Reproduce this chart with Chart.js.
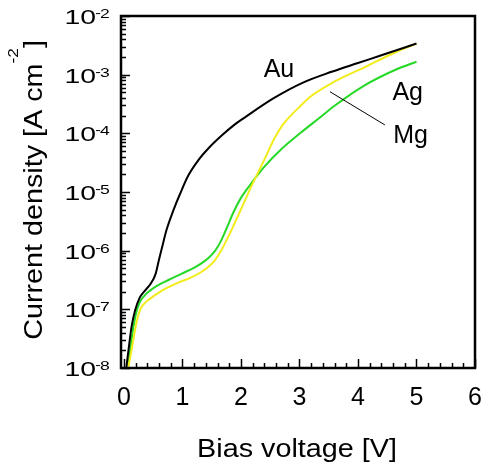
<!DOCTYPE html>
<html>
<head>
<meta charset="utf-8">
<script src="https://cdn.jsdelivr.net/npm/chart.js@4.4.1/dist/chart.umd.min.js"></script>
<style>
  html, body { margin: 0; padding: 0; background: #fff; }
  #wrap { width: 481px; height: 470px; }
</style>
</head>
<body>
<div id="wrap"><canvas id="jv"></canvas></div>
<script>
// Au electrode (black)
const auV = [0.04, 0.10, 0.13, 0.19, 0.27, 0.36, 0.46, 0.54, 0.60, 0.65, 0.73, 0.85, 0.96, 1.10, 1.27, 1.45, 1.68, 1.88, 2.05, 2.56, 3.07, 3.55, 4.00, 4.40, 5.00];
const auJ = [1.0e-8, 3.02e-8, 5.01e-8, 9.55e-8, 1.58e-7, 2.09e-7, 2.75e-7, 3.98e-7, 7.08e-7, 1.12e-6, 2.29e-6, 5.01e-6, 9.33e-6, 1.91e-5, 3.47e-5, 5.62e-5, 9.33e-5, 1.38e-4, 1.82e-4, 3.98e-4, 7.41e-4, 1.12e-3, 1.58e-3, 2.14e-3, 3.39e-3];

// Ag electrode (yellow)
const agV = [0.07, 0.12, 0.16, 0.22, 0.28, 0.34, 0.42, 0.65, 0.87, 1.16, 1.33, 1.45, 1.55, 1.65, 1.76, 1.87, 1.99, 2.18, 2.39, 2.58, 2.71, 2.84, 3.00, 3.18, 3.56, 4.10, 4.68, 5.00];
const agJ = [1.0e-8, 1.78e-8, 3.02e-8, 6.31e-8, 1.0e-7, 1.23e-7, 1.45e-7, 2.09e-7, 2.69e-7, 3.55e-7, 4.37e-7, 5.37e-7, 6.76e-7, 9.55e-7, 1.55e-6, 2.63e-6, 4.79e-6, 1.26e-5, 3.39e-5, 8.51e-5, 1.38e-4, 1.95e-4, 2.82e-4, 4.17e-4, 7.24e-4, 1.32e-3, 2.51e-3, 3.39e-3];

// Mg electrode (green)
const mgV = [0.07, 0.10, 0.13, 0.17, 0.22, 0.27, 0.33, 0.42, 0.53, 0.76, 0.99, 1.22, 1.39, 1.48, 1.56, 1.65, 1.75, 1.87, 2.00, 2.17, 2.39, 2.68, 3.02, 3.35, 3.60, 4.10, 4.68, 5.00];
const mgJ = [1.0e-8, 1.78e-8, 3.02e-8, 5.62e-8, 9.55e-8, 1.32e-7, 1.62e-7, 2.0e-7, 2.40e-7, 3.16e-7, 4.07e-7, 5.25e-7, 6.76e-7, 8.13e-7, 1.0e-6, 1.41e-6, 2.34e-6, 4.47e-6, 7.94e-6, 1.38e-5, 2.63e-5, 5.25e-5, 1.02e-4, 1.86e-4, 2.95e-4, 6.46e-4, 1.26e-3, 1.66e-3];

// axis ticks
const xTicks = [0, 1, 2, 3, 4, 5, 6];
const yDecades = [-8, -7, -6, -5, -4, -3, -2];

// curve names and the leader line (data units)
const names = ['Au', 'Ag', 'Mg'];
const nameV = [2.65, 4.85, 4.90];
const nameJ = [9.25e-4, 3.7e-4, 6.9e-5];
const leaderV = [3.52, 4.46];
const leaderJ = [5.13e-4, 1.39e-4];

const FONT = '"Liberation Sans", Arial, sans-serif';

function pts(xs, ys) {
    return xs.map((v, i) => ({ x: v, y: ys[i] }));
}

function stretchText(ctx, s, x, y, size, sx, align) {
    ctx.save();
    ctx.font = size + 'px ' + FONT;
    ctx.translate(x, y);
    ctx.scale(sx, 1);
    ctx.textAlign = align;
    ctx.textBaseline = 'alphabetic';
    ctx.fillText(s, 0, 0);
    ctx.restore();
}

// frame, inward ticks, labels, titles and notes
const frameAndText = {
    id: 'frameAndText',
    afterDraw(chart) {
        const { ctx, chartArea: a, scales: { x, y } } = chart;
        ctx.save();
        ctx.strokeStyle = '#000';
        ctx.fillStyle = '#000';

        // x ticks, every 0.2 with majors at integers
        ctx.lineWidth = 1.5;
        ctx.beginPath();
        for (let i = 0; i <= 30; i++) {
            const px = Math.round(x.getPixelForValue(i / 5)) + 0.5;
            const len = i % 5 === 0 ? 9 : 5;
            ctx.moveTo(px, a.bottom);
            ctx.lineTo(px, a.bottom - len);
        }
        // y ticks, decades plus 2..9 minors
        yDecades.forEach(e => {
            const py = Math.round(y.getPixelForValue(Math.pow(10, e))) + 0.5;
            ctx.moveTo(a.left, py);
            ctx.lineTo(a.left + 9, py);
            if (e < -2) {
                for (let m = 2; m <= 9; m++) {
                    const pm = Math.round(y.getPixelForValue(m * Math.pow(10, e))) + 0.5;
                    ctx.moveTo(a.left, pm);
                    ctx.lineTo(a.left + 5, pm);
                }
            }
        });
        ctx.stroke();

        // frame
        ctx.lineWidth = 2.5;
        ctx.strokeRect(a.left, a.top, a.right - a.left, a.bottom - a.top);

        // x tick labels
        xTicks.forEach(v => {
            stretchText(ctx, String(v), x.getPixelForValue(v), a.bottom + 37, 25, 1, 'center');
        });

        // y tick labels 10^e
        yDecades.forEach(e => {
            const py = y.getPixelForValue(Math.pow(10, e));
            stretchText(ctx, '10', a.left - 25, py + 8, 21, 1.35, 'right');
            stretchText(ctx, '-', a.left - 20, py + 1, 13, 1.3, 'right');
            stretchText(ctx, String(-e), a.left - 21, py + 2, 13, 1.35, 'left');
        });

        // x title
        stretchText(ctx, 'Bias voltage [V]', (a.left + a.right) / 2 - 1, 457, 25, 1.15, 'center');

        // y title with superscript
        ctx.save();
        ctx.translate(42, (a.top + a.bottom) / 2 - 2);
        ctx.rotate(-Math.PI / 2);
        ctx.scale(1.15, 1);
        ctx.textAlign = 'left';
        const main = 'Current density [A cm';
        const sup = '-2';
        ctx.font = '25px ' + FONT;
        const wMain = ctx.measureText(main).width;
        const wClose = ctx.measureText(']').width;
        ctx.font = '15px ' + FONT;
        const wSup = ctx.measureText(sup).width;
        const x0 = -(wMain + wSup + wClose) / 2;
        ctx.font = '25px ' + FONT;
        ctx.fillText(main, x0, 0);
        ctx.fillText(']', x0 + wMain + wSup, 0);
        ctx.font = '15px ' + FONT;
        ctx.fillText(sup, x0 + wMain, -24);
        ctx.restore();

        // leader line
        ctx.lineWidth = 1;
        ctx.beginPath();
        ctx.moveTo(x.getPixelForValue(leaderV[0]), y.getPixelForValue(leaderJ[0]));
        ctx.lineTo(x.getPixelForValue(leaderV[1]), y.getPixelForValue(leaderJ[1]));
        ctx.stroke();

        // curve names
        names.forEach((n, i) => {
            stretchText(ctx, n, x.getPixelForValue(nameV[i]), y.getPixelForValue(nameJ[i]), 25, 1, 'center');
        });

        ctx.restore();
    }
};

const line = (label, xs, ys, color) => ({
    label: label,
    data: pts(xs, ys),
    borderColor: color,
    borderWidth: 2,
    pointRadius: 0,
    showLine: true,
    fill: false,
    cubicInterpolationMode: 'monotone'
});

new Chart(document.getElementById('jv'), {
    type: 'scatter',
    data: {
        datasets: [
            line('Au', auV, auJ, '#000000'),
            line('Ag', agV, agJ, '#f2ec1a'),
            line('Mg', mgV, mgJ, '#26d926')
        ]
    },
    options: {
        responsive: true,
        maintainAspectRatio: false,
        animation: false,
        devicePixelRatio: 1,
        layout: { padding: { top: 16, right: 6, left: 0, bottom: 0 } },
        plugins: {
            legend: { display: false },
            tooltip: { enabled: false }
        },
        scales: {
            x: {
                type: 'linear',
                min: -0.05,
                max: 6,
                grid: { display: false },
                border: { display: false },
                ticks: { display: false },
                afterFit: s => { s.height = 102; }
            },
            y: {
                type: 'logarithmic',
                min: 1e-8,
                max: 1e-2,
                grid: { display: false },
                border: { display: false },
                ticks: { display: false },
                afterFit: s => { s.width = 121; }
            }
        }
    },
    plugins: [frameAndText]
});
</script>
</body>
</html>
